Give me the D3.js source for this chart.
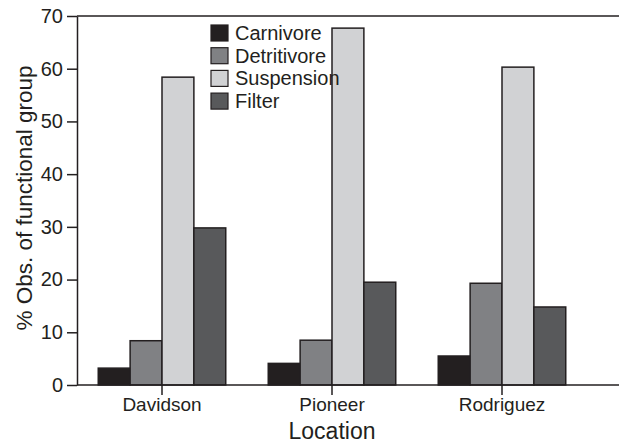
<!DOCTYPE html>
<html>
<head>
<meta charset="utf-8">
<script src="https://cdn.jsdelivr.net/npm/d3@7"></script>
<style>
  body { margin: 0; background: #fff; }
  svg { display: block; font-family: "Liberation Sans", Arial, Helvetica, sans-serif; }
</style>
</head>
<body>
<div id="chart"></div>
<script>
var locations = ['Davidson', 'Pioneer', 'Rodriguez']
var groups = ['Carnivore', 'Detritivore', 'Suspension', 'Filter']
var carnivore = [3.2, 4.1, 5.5]
var detritivore = [8.4, 8.5, 19.3]
var suspension = [58.4, 67.7, 60.3]
var filter = [29.8, 19.5, 14.8]
var yTicks = [0, 10, 20, 30, 40, 50, 60, 70]

var series = [carnivore, detritivore, suspension, filter]
var colors = ['#231f20', '#808184', '#d1d2d4', '#58595b']
var INK = '#231f20'

var WIDTH = 619
var HEIGHT = 445
var LEFT = 77
var TOP = 16
var BOTTOM = 385

var svg = d3.select('#chart').append('svg')
  .attr('width', WIDTH)
  .attr('height', HEIGHT)

var x = d3.scaleBand()
  .domain(locations)
  .range([LEFT, LEFT + 510])
  .paddingInner(0.25)
  .paddingOuter(0.125)

var xInner = d3.scaleBand()
  .domain(groups)
  .range([0, x.bandwidth()])

var y = d3.scaleLinear()
  .domain([0, 70])
  .range([BOTTOM, TOP])

// bars
var rows = []
locations.forEach(function (loc, i) {
  groups.forEach(function (g, j) {
    rows.push({loc: loc, group: g, value: series[j][i], color: colors[j]})
  })
})

svg.append('g').selectAll('rect')
  .data(rows)
  .enter().append('rect')
  .attr('x', function (d) { return x(d.loc) + xInner(d.group) })
  .attr('y', function (d) { return y(d.value) })
  .attr('width', xInner.bandwidth())
  .attr('height', function (d) { return y(0) - y(d.value) })
  .attr('fill', function (d) { return d.color })
  .attr('stroke', INK)
  .attr('stroke-width', 1.5)

// frame line on top (runs off the right edge)
svg.append('line')
  .attr('x1', LEFT).attr('x2', WIDTH)
  .attr('y1', y(70)).attr('y2', y(70))
  .attr('stroke', INK).attr('stroke-width', 1.5)

// y axis
var yAxis = svg.append('g')
  .attr('transform', 'translate(' + LEFT + ',0)')
  .call(d3.axisLeft(y).tickValues(yTicks).tickSize(10).tickPadding(4).tickSizeOuter(0))
yAxis.select('.domain').attr('stroke', INK).attr('stroke-width', 1.5)
yAxis.selectAll('.tick line').attr('stroke', INK).attr('stroke-width', 1.5)
yAxis.selectAll('.tick text')
  .attr('fill', INK)
  .style('font-size', '20px')

// x axis
var xAxis = svg.append('g')
  .attr('transform', 'translate(0,' + BOTTOM + ')')
  .call(d3.axisBottom(x).tickSize(10).tickPadding(3).tickSizeOuter(0))
xAxis.select('.domain').attr('d', 'M' + LEFT + ',0H' + WIDTH)
  .attr('stroke', INK).attr('stroke-width', 1.5)
xAxis.selectAll('.tick line').attr('stroke', INK).attr('stroke-width', 1.5)
xAxis.selectAll('.tick text')
  .attr('fill', INK)
  .style('font-size', '19px')

// axis titles
svg.append('text')
  .attr('transform', 'translate(32,198) rotate(-90)')
  .attr('text-anchor', 'middle')
  .attr('fill', INK)
  .style('font-size', '22.5px')
  .text('% Obs. of functional group')

svg.append('text')
  .attr('x', x('Pioneer') + x.bandwidth() / 2)
  .attr('y', 439)
  .attr('text-anchor', 'middle')
  .attr('fill', INK)
  .style('font-size', '23px')
  .text('Location')

// legend
var legend = svg.append('g')
  .attr('transform', 'translate(211,25)')

var item = legend.selectAll('g')
  .data(groups)
  .enter().append('g')
  .attr('transform', function (d, i) { return 'translate(0,' + (i * 22.7) + ')' })

item.append('rect')
  .attr('width', 17)
  .attr('height', 16)
  .attr('fill', function (d, i) { return colors[i] })
  .attr('stroke', INK)
  .attr('stroke-width', 1.2)

item.append('text')
  .attr('x', 24)
  .attr('y', 8)
  .attr('dy', '0.35em')
  .attr('fill', INK)
  .style('font-size', '20px')
  .text(function (d) { return d })
</script>
</body>
</html>
